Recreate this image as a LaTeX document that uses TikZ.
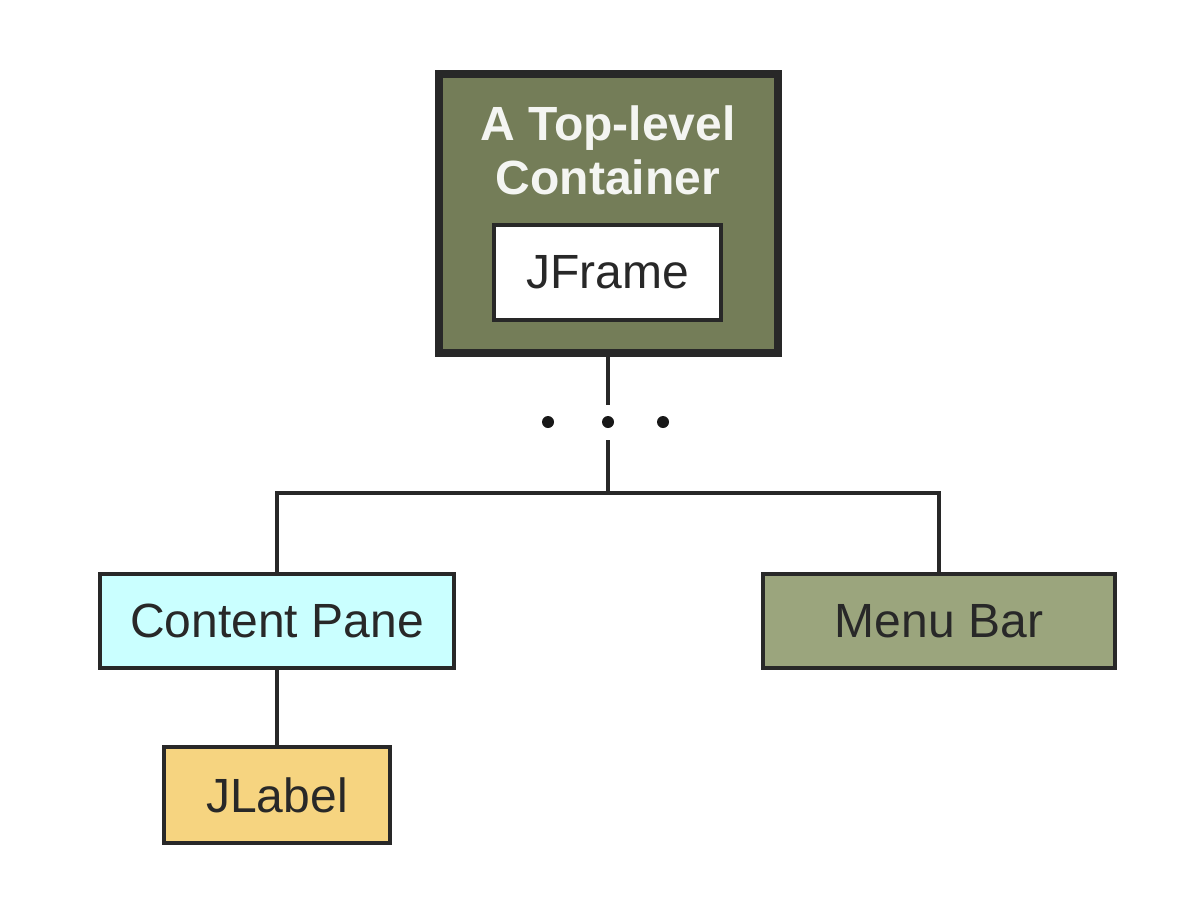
\documentclass[tikz,border=0pt]{standalone}
\usepackage{fontspec}
\setmainfont{Liberation Sans}
\usepackage{tikz}

\definecolor{olivedark}{RGB}{116,125,88}
\definecolor{olivelight}{RGB}{155,165,125}
\definecolor{panecyan}{RGB}{202,255,255}
\definecolor{labelgold}{RGB}{246,212,128}
\definecolor{inkgray}{RGB}{40,40,40}

\tikzset{
    box/.style={draw=inkgray, line width=2pt, inner sep=0pt, text=inkgray,
        font=\fontsize{24}{28}\selectfont},
    wire/.style={draw=inkgray, line width=2pt}
}

\begin{document}
\begin{tikzpicture}[x=0.5pt, y=-0.5pt]
        % Fix the page size
        \useasboundingbox (0,0) rectangle (1200,900);

        % Draw the top-level container
        \node[box, fill=olivedark, line width=4pt, minimum width=169.5pt, minimum height=139.5pt] (top) at (608,213.5) {};
        \node[text=white!92!olivedark, align=center, font=\fontsize{24}{27}\selectfont\bfseries] (toptext) at (608,150) {A Top-level\\Container};
        \node[box, fill=white, minimum width=113.5pt, minimum height=47.5pt] (frame) at (607.5,272.5) {JFrame};

        % Draw the children
        \node[box, fill=panecyan, minimum width=177pt, minimum height=47pt] (pane) at (277,621) {Content Pane};
        \node[box, fill=olivelight, minimum width=176pt, minimum height=47pt] (menu) at (939,621) {Menu Bar};
        \node[box, fill=labelgold, minimum width=113pt, minimum height=48pt] (label) at (277,795) {JLabel};

        % Draw the connectors
        \coordinate (gapup) at (608,405);
        \coordinate (gapdown) at (608,440);
        \coordinate (split) at (608,493);
        \draw[wire] (top.south) -- (gapup);
        \draw[wire] (gapdown) -- (split);
        \draw[wire] (pane.north) |- (split) -| (menu.north);
        \draw[wire] (pane.south) -- (label.north);

        % Draw the dots
        \foreach \x in {548, 608, 663} {
            \fill[inkgray!60!black] (\x,422) circle (3pt);
        }

    \end{tikzpicture}
\end{document}
